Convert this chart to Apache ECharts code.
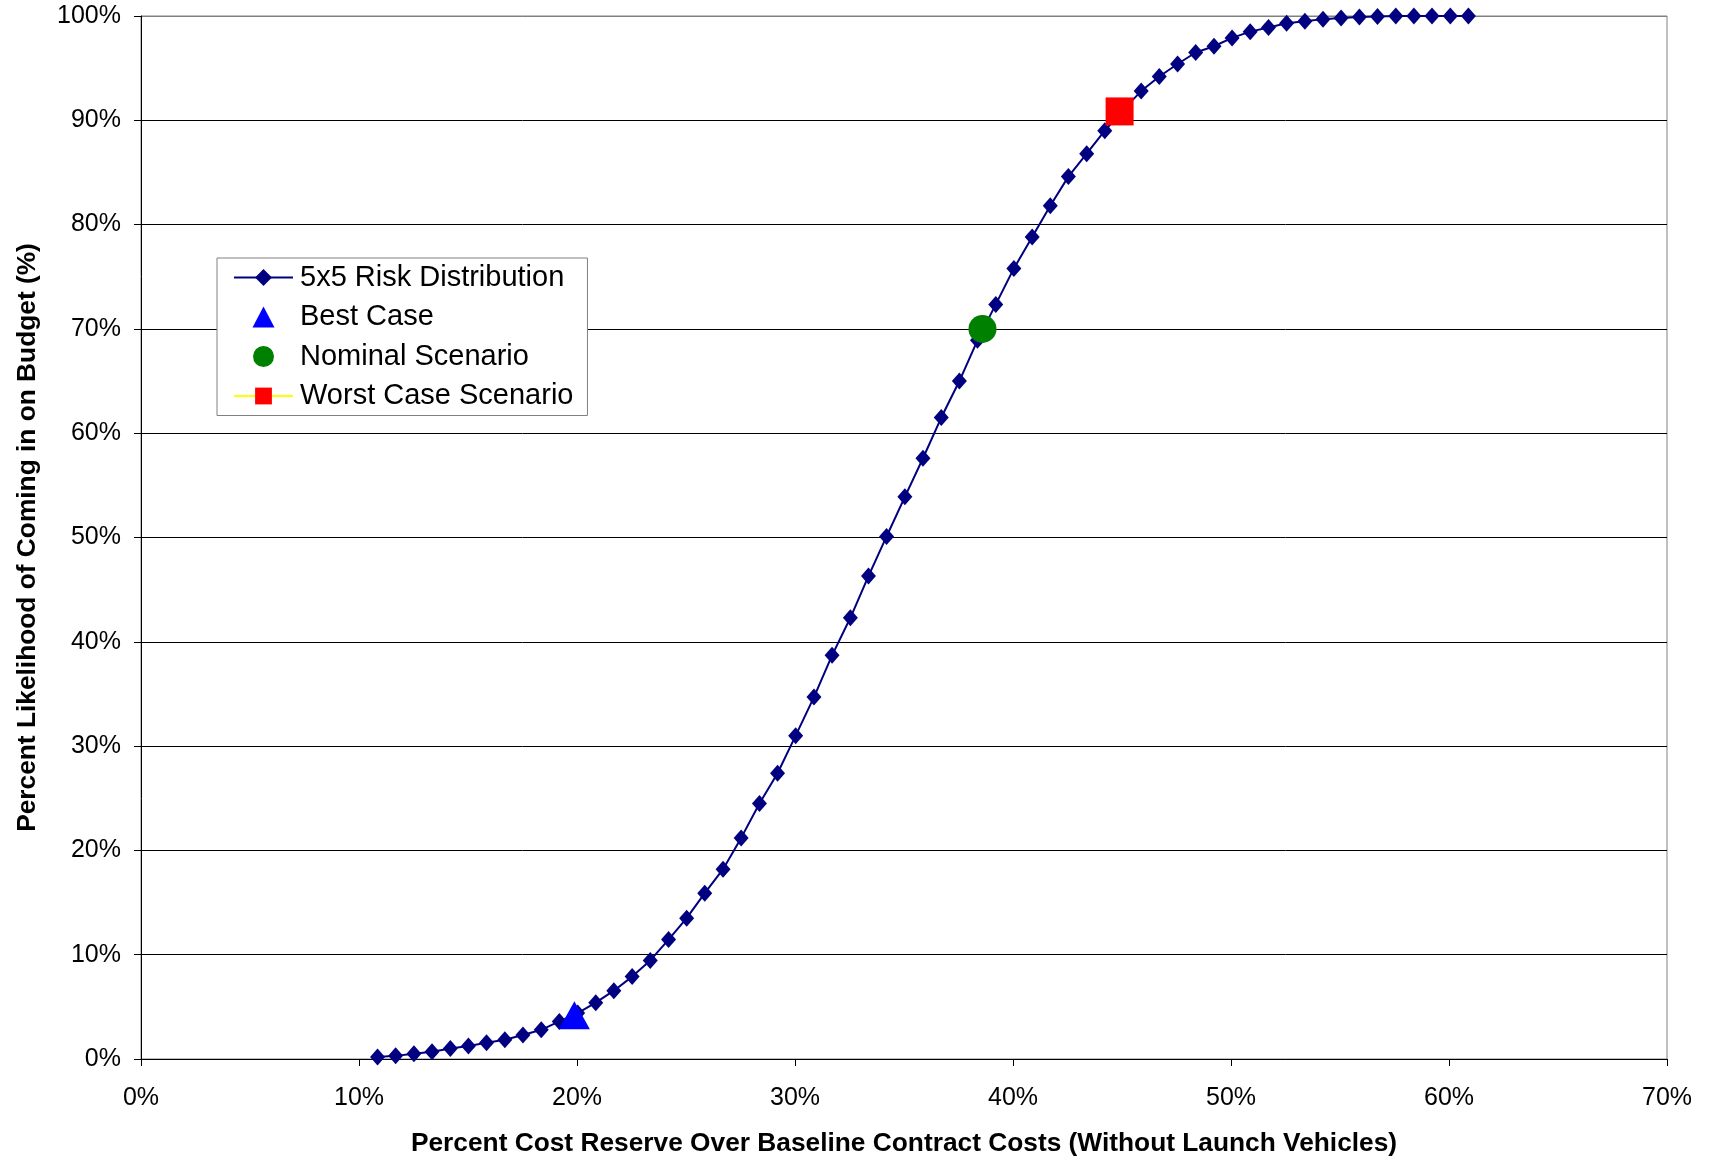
<!DOCTYPE html>
<html>
<head>
<meta charset="utf-8">
<script src="https://cdn.jsdelivr.net/npm/echarts@6/dist/echarts.min.js"></script>
<style>
html,body{margin:0;padding:0;background:#fff;}
#chart{width:1709px;height:1158px;}
</style>
</head>
<body>
<div id="chart"></div>
<script>
// Percent cost reserve (x, %) and likelihood (y, %) for the 5x5 risk distribution
const riskX = [10.85, 11.68, 12.52, 13.35, 14.19, 15.02, 15.85, 16.69, 17.52, 18.36,
  19.19, 20.03, 20.86, 21.69, 22.53, 23.36, 24.20, 25.03, 25.86, 26.70,
  27.53, 28.37, 29.20, 30.03, 30.87, 31.70, 32.54, 33.37, 34.20, 35.04,
  35.87, 36.71, 37.54, 38.37, 39.21, 40.04, 40.88, 41.71, 42.54, 43.38,
  44.21, 45.05, 45.88, 46.71, 47.55, 48.38, 49.22, 50.05, 50.88, 51.72,
  52.55, 53.39, 54.22, 55.05, 55.89, 56.72, 57.56, 58.39, 59.22, 60.06, 60.89];
const riskY = [0.2, 0.3, 0.5, 0.7, 1.0, 1.25, 1.55, 1.85, 2.3, 2.8,
  3.6, 4.4, 5.4, 6.55, 7.9, 9.45, 11.45, 13.5, 15.9, 18.2,
  21.2, 24.5, 27.4, 31.0, 34.7, 38.7, 42.3, 46.3, 50.1, 53.9,
  57.6, 61.5, 65.0, 68.9, 72.35, 75.8, 78.8, 81.8, 84.6, 86.8,
  89.0, 91.0, 92.8, 94.2, 95.4, 96.5, 97.1, 97.9, 98.5, 98.9,
  99.3, 99.5, 99.7, 99.8, 99.9, 99.95, 100, 100, 100, 100, 100];
const bestCase = [19.88, 4.2];
const nominalScenario = [38.6, 70.0];
const worstCase = [44.89, 90.85];
const seriesNames = ['5x5 Risk Distribution', 'Best Case', 'Nominal Scenario', 'Worst Case Scenario'];
const xTitle = 'Percent Cost Reserve Over Baseline Contract Costs (Without Launch Vehicles)';
const yTitle = 'Percent Likelihood of Coming in on Budget (%)';

const riskData = riskX.map((x, i) => [x, riskY[i]]);
const FONT = '"Liberation Sans", Arial, sans-serif';
const splitColors = ['#000','#000','#000','#000','#000','#000','#000','#000','#000','#000','#808080'];
// legend icon: triangle centred in the 59x21 legend icon box (invisible corner points keep the box)
const legendTriangle = 'path://M0,0L0,0M59,21L59,21M18.5,21L29.5,0L40.5,21Z';

const chart = echarts.init(document.getElementById('chart'), null, {renderer: 'canvas'});
chart.setOption({
  animation: false,
  backgroundColor: '#fff',
  textStyle: {fontFamily: FONT, color: '#000'},
  grid: {left: 141, right: 42, top: 16, bottom: 99, show: true, borderColor: '#808080', borderWidth: 1,
    backgroundColor: '#fff', containLabel: false, outerBoundsMode: 'none'},
  legend: {
    orient: 'vertical', left: 217, top: 258,
    padding: [5, 14, 5, 16], itemGap: 10.5,
    itemWidth: 59, itemHeight: 21,
    backgroundColor: '#fff', borderColor: '#808080', borderWidth: 1, borderRadius: 0,
    textStyle: {fontFamily: FONT, fontSize: 29, color: '#000', padding: [0, 0, 0, 2]},
    data: [
      {name: seriesNames[0]},
      {name: seriesNames[1], icon: legendTriangle},
      {name: seriesNames[2], icon: 'circle'},
      {name: seriesNames[3]}
    ]
  },
  xAxis: {
    type: 'value', min: 0, max: 70, interval: 10,
    name: xTitle, nameLocation: 'middle', nameGap: 72,
    nameTextStyle: {fontFamily: FONT, fontSize: 26.3, fontWeight: 'bold', color: '#000'},
    axisLine: {show: true, onZero: false, lineStyle: {color: '#000', width: 1}},
    axisTick: {show: true, inside: false, length: 7, lineStyle: {color: '#000'}},
    axisLabel: {formatter: '{value}%', fontFamily: FONT, fontSize: 25, color: '#000', margin: 27},
    splitLine: {show: false}
  },
  yAxis: {
    type: 'value', min: 0, max: 100, interval: 10,
    name: yTitle, nameLocation: 'middle', nameGap: 100, nameRotate: 90,
    nameTextStyle: {fontFamily: FONT, fontSize: 26.3, fontWeight: 'bold', color: '#000'},
    axisLine: {show: true, lineStyle: {color: '#000', width: 1}},
    axisTick: {show: true, inside: false, length: 7, lineStyle: {color: '#000'}},
    axisLabel: {formatter: '{value}%', fontFamily: FONT, fontSize: 25, color: '#000', margin: 20},
    splitLine: {show: true, lineStyle: {color: splitColors, width: 1}}
  },
  series: [
    {
      name: seriesNames[0], type: 'line', data: riskData,
      symbol: 'diamond', symbolSize: [15, 17],
      lineStyle: {color: '#000080', width: 2},
      itemStyle: {color: '#000080'},
      z: 3
    },
    {
      name: seriesNames[1], type: 'scatter', data: [bestCase],
      symbol: 'triangle', symbolSize: [31, 28],
      itemStyle: {color: '#0000FF', opacity: 1},
      z: 4
    },
    {
      name: seriesNames[2], type: 'scatter', data: [nominalScenario],
      symbol: 'circle', symbolSize: 28,
      itemStyle: {color: '#008000', opacity: 1},
      z: 4
    },
    {
      name: seriesNames[3], type: 'line', data: [worstCase],
      symbol: 'rect', symbolSize: 28, showSymbol: true,
      lineStyle: {color: '#FFFF00', width: 2},
      itemStyle: {color: '#FF0000'},
      z: 4
    }
  ]
});
</script>
</body>
</html>
